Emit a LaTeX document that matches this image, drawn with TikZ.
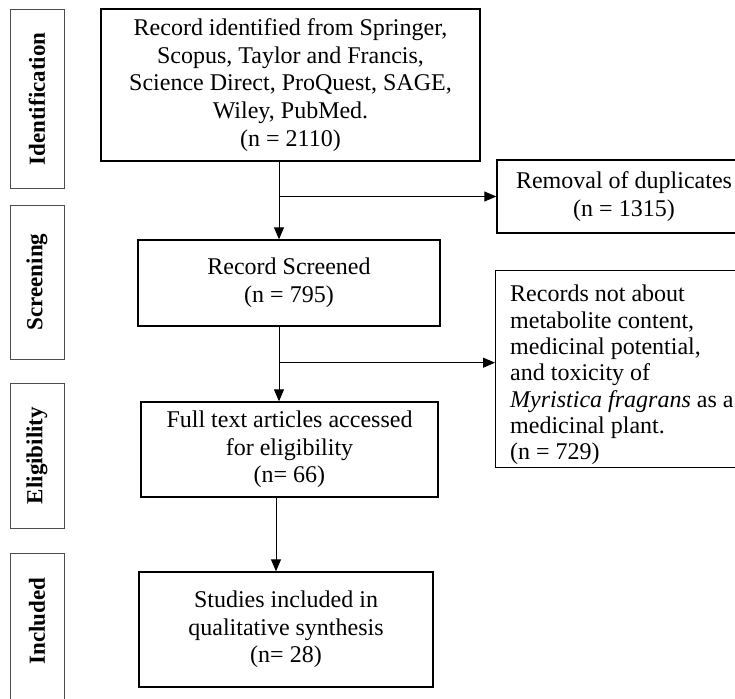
\documentclass[tikz,border=0pt]{standalone}
\usepackage{fontspec}
\setmainfont{Liberation Serif}
\usetikzlibrary{arrows.meta}
\tikzset{
% Boxes of the flow chart, the stage labels beside them and the arrows
flow box/.style={draw,line width=1.4pt,align=center,inner sep=0pt},
stage box/.style={draw=black!70,line width=1pt,rotate=90,inner sep=0pt,
  minimum height=54pt,font=\fontsize{23}{27.5}\selectfont\bfseries},
flow arrow/.style={line width=1pt,-{Triangle[length=12pt,width=10pt]}}
}

\begin{document}
\begin{tikzpicture}[x=1pt,y=-1pt,font=\fontsize{24}{27.7}\selectfont]
      % Page of the reference size, the boxes on the right run off it
      \useasboundingbox (0,0) rectangle (735,698);
      \clip (0,0) rectangle (735,698);
      % Stage labels on the left
      \node(ident)[stage box,minimum width=178pt] at (37,99) {Identification};
      \node(screen)[stage box,minimum width=154pt] at (37,282) {Screening};
      \node(elig)[stage box,minimum width=145pt] at (37,455.5) {Eligibility};
      \node(incl)[stage box,minimum width=168pt] at (37,637) {\hspace{32pt}Included};
      % Main column
      \node(found)[flow box,minimum width=379pt,minimum height=152pt] at (290.5,85)
        {Record identified from Springer,\\ Scopus, Taylor and Francis,\\
         Science Direct, ProQuest, SAGE,\\ Wiley, PubMed.\\ (n = 2110)};
      \node(scr)[flow box,minimum width=302pt,minimum height=86pt] at (289,283)
        {Record Screened\\ (n = 795)};
      \node(full)[flow box,minimum width=297pt,minimum height=95pt] at (289.5,449.5)
        {Full text articles accessed\\ for eligibility\\ (n= 66)};
      \node(study)[flow box,minimum width=294pt,minimum height=115pt] at (286,629.5)
        {Studies included in\\ qualitative synthesis\\ (n= 28)};
      % Records taken out
      \node(dup)[flow box,minimum width=254pt,minimum height=73pt] at (624,196.5)
        {Removal of duplicates\\ (n = 1315)};
      \node(excl)[flow box,anchor=north west,minimum width=265pt,minimum height=197pt] at (495,270) {};
      \node(excltext)[anchor=north west,align=left,inner sep=0pt,font=\fontsize{24}{26.3}\selectfont]
        at ([xshift=15pt,yshift=-15pt]excl.north west)
        {Records not about\\ metabolite content,\\ medicinal potential,\\
         and toxicity of\\ \textit{Myristica fragrans} as a\\ medicinal plant.\\ (n = 729)};
      \coordinate (exclin) at ([yshift=6.5pt]excl.west);
      % Arrows
      \draw[flow arrow] ([xshift=-11.5pt]found.south) -- ([xshift=-11.5pt]found.south |- scr.north);
      \draw[flow arrow] ([xshift=-11.5pt]found.south |- dup.west) -- (dup.west);
      \draw[flow arrow] ([xshift=-10pt]scr.south) -- ([xshift=-10pt]scr.south |- full.north);
      \draw[flow arrow] ([xshift=-10pt]scr.south |- exclin) -- (exclin);
      \draw[flow arrow] ([xshift=-13.5pt]full.south) -- ([xshift=-13.5pt]full.south |- study.north);
    \end{tikzpicture}
\end{document}
